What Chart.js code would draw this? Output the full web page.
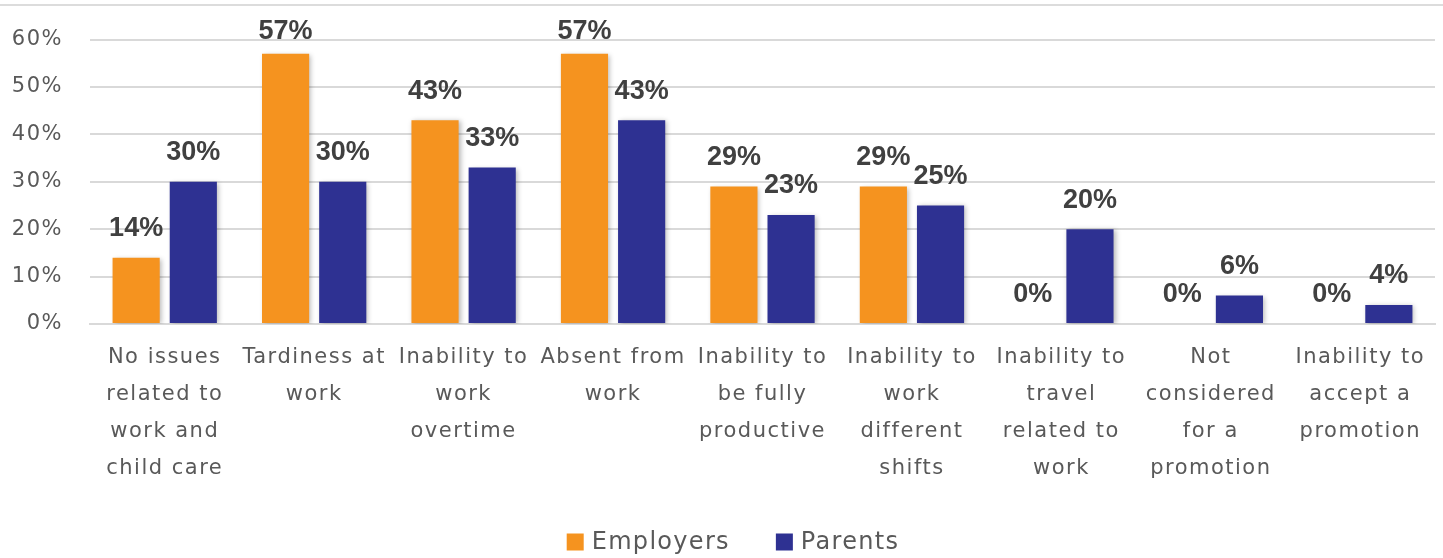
<!DOCTYPE html>
<html>
<head>
<meta charset="utf-8">
<script src="https://cdn.jsdelivr.net/npm/chart.js@4"></script>
<style>
  html, body { margin: 0; padding: 0; background: #fff; }
  #wrap { position: relative; width: 1443px; height: 558px; }
  #topline { position: absolute; left: 0; top: 4px; width: 1443px; height: 2px; background: #dcdcdc; }
  canvas { position: absolute; left: 0; top: 0; }
</style>
</head>
<body>
<div id="wrap">
  <div id="topline"></div>
  <canvas id="c" width="1443" height="558"></canvas>
</div>
<script>
const categories = [
  ["No issues", "related to", "work and", "child care"],
  ["Tardiness at", "work"],
  ["Inability to", "work", "overtime"],
  ["Absent from", "work"],
  ["Inability to", "be fully", "productive"],
  ["Inability to", "work", "different", "shifts"],
  ["Inability to", "travel", "related to", "work"],
  ["Not", "considered", "for a", "promotion"],
  ["Inability to", "accept a", "promotion"]
];
const employers = [14, 57, 43, 57, 29, 29, 0, 0, 0];
const parents = [30, 30, 33, 43, 23, 25, 20, 6, 4];
const seriesNames = ["Employers", "Parents"];
const seriesColors = ["#F5931F", "#2E3192"];
const yTicks = [0, 10, 20, 30, 40, 50, 60];

const FONT = "'DejaVu Sans', sans-serif";
const BOLD_FONT = "'Liberation Sans', Arial, sans-serif";

const spacingPlugin = {
  id: 'spacing',
  beforeDraw(chart) { chart.ctx.letterSpacing = '1.5px'; },
  afterDraw(chart) { chart.ctx.letterSpacing = '0px'; }
};

const shadowPlugin = {
  id: 'shadow',
  beforeDatasetDraw(chart) {
    const ctx = chart.ctx;
    ctx.save();
    ctx.shadowColor = 'rgba(0,0,0,0.28)';
    ctx.shadowBlur = 5;
    ctx.shadowOffsetX = 2;
    ctx.shadowOffsetY = 1;
  },
  afterDatasetDraw(chart) {
    chart.ctx.restore();
  }
};

const labelPlugin = {
  id: 'valueLabels',
  afterDatasetsDraw(chart) {
    const ctx = chart.ctx;
    ctx.save();
    ctx.letterSpacing = '0px';
    ctx.font = "bold 27px " + BOLD_FONT;
    ctx.fillStyle = '#404040';
    ctx.textAlign = 'center';
    ctx.textBaseline = 'middle';
    chart.data.datasets.forEach((ds, di) => {
      const meta = chart.getDatasetMeta(di);
      meta.data.forEach((bar, i) => {
        let y = bar.y - 29;
        if (y < 32) y = 32;
        ctx.fillText(ds.data[i] + '%', bar.x, y);
      });
    });
    ctx.restore();
  }
};

const legendPlugin = {
  id: 'customLegend',
  afterDraw(chart) {
    const ctx = chart.ctx;
    ctx.save();
    ctx.letterSpacing = '1.3px';
    ctx.font = "24px " + FONT;
    const box = 17, gapText = 8, gapItem = 46;
    const widths = seriesNames.map(n => ctx.measureText(n).width);
    const total = widths.reduce((a, w) => a + box + gapText + w, 0) + gapItem * (seriesNames.length - 1);
    let x = 733 - total / 2;
    const cy = 542;
    ctx.textBaseline = 'middle';
    ctx.textAlign = 'left';
    seriesNames.forEach((n, i) => {
      ctx.fillStyle = seriesColors[i];
      ctx.fillRect(x, cy - box / 2, box, box);
      x += box + gapText;
      ctx.fillStyle = '#595959';
      ctx.fillText(n, x, cy + 1);
      x += widths[i] + gapItem;
    });
    ctx.restore();
  }
};

new Chart(document.getElementById('c'), {
  type: 'bar',
  data: {
    labels: categories,
    datasets: [
      { label: seriesNames[0], data: employers, backgroundColor: seriesColors[0], categoryPercentage: 0.765, barPercentage: 0.825 },
      { label: seriesNames[1], data: parents, backgroundColor: seriesColors[1], categoryPercentage: 0.765, barPercentage: 0.825 }
    ]
  },
  options: {
    responsive: false,
    animation: false,
    layout: { padding: { top: 37, right: 8, left: 0, bottom: 56 } },
    scales: {
      y: {
        min: 0, max: 60,
        afterBuildTicks(axis) { axis.ticks = yTicks.map(v => ({ value: v })); },
        afterFit(axis) { axis.width = 90; },
        ticks: {
          callback: v => v + '%',
          font: { family: FONT, size: 21 },
          color: '#595959',
          padding: 27
        },
        grid: { color: '#d9d9d9', lineWidth: 2, drawTicks: false },
        border: { display: false }
      },
      x: {
        ticks: {
          font: { family: FONT, size: 21, lineHeight: 1.762 },
          color: '#595959',
          padding: 15,
          maxRotation: 0,
          autoSkip: false
        },
        grid: { display: false, drawTicks: false },
        border: { color: '#d9d9d9', width: 2 }
      }
    },
    plugins: {
      legend: { display: false },
      tooltip: { enabled: false }
    }
  },
  plugins: [spacingPlugin, shadowPlugin, labelPlugin, legendPlugin]
});
</script>
</body>
</html>
